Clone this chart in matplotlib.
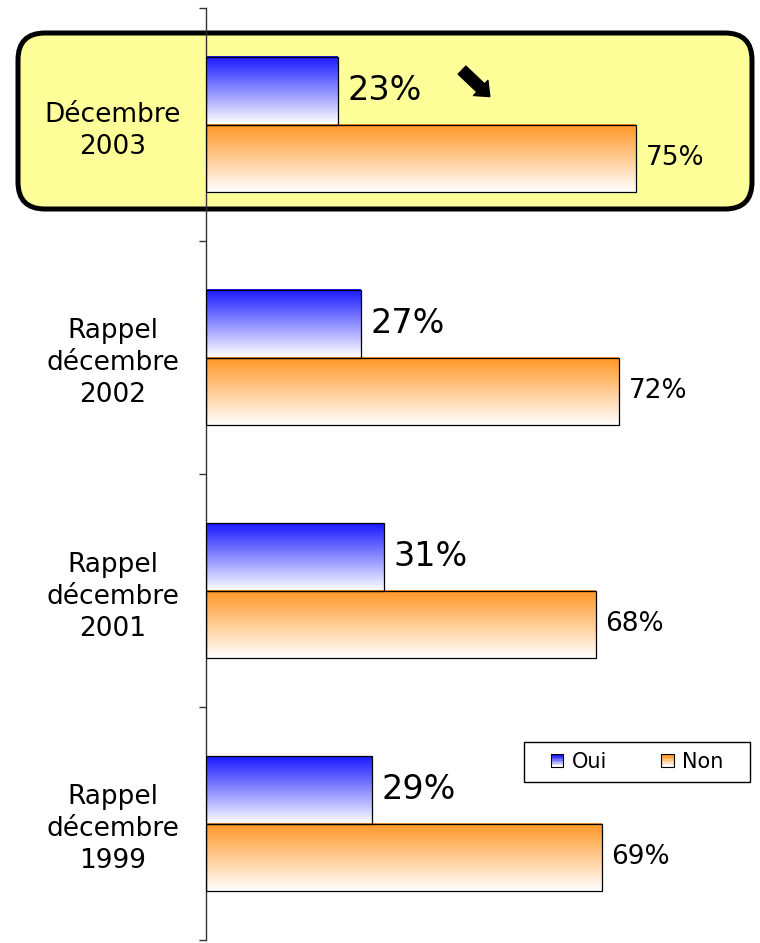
import numpy as np
import matplotlib
matplotlib.use("Agg")
import matplotlib.pyplot as plt
from matplotlib.patches import FancyBboxPatch, Rectangle, Patch
from matplotlib.legend_handler import HandlerBase

# data
categories = ["Décembre\n2003", "Rappel\ndécembre\n2002", "Rappel\ndécembre\n2001", "Rappel\ndécembre\n1999"]
oui = [23, 27, 31, 29]
non = [75, 72, 68, 69]
series_names = ["Oui", "Non"]

BLUE = np.array([0.07, 0.07, 1.0])
ORANGE = np.array([1.0, 0.58, 0.12])
WHITE = np.array([1.0, 1.0, 1.0])


def gradient(color, n=64):
    t = np.linspace(0, 1, n)[:, None]
    col = color[None, :] * (1 - t) + WHITE[None, :] * t
    col = col * 0.97 + 0.03 * WHITE
    return col[:, None, :]


class GradientHandler(HandlerBase):
    def __init__(self, color):
        super().__init__()
        self.color = color

    def create_artists(self, legend, orig_handle, xdescent, ydescent,
                       width, height, fontsize, trans):
        size = min(width, height)
        x0 = -xdescent + (width - size) / 2
        y0 = -ydescent + (height - size) / 2
        n = 8
        arts = []
        for i in range(n):
            t = i / (n - 1)
            c = self.color * (1 - t) + WHITE * t
            arts.append(Rectangle((x0, y0 + size * (n - 1 - i) / n), size, size / n,
                                  facecolor=c, edgecolor="none", transform=trans))
        arts.append(Rectangle((x0, y0), size, size, facecolor="none",
                              edgecolor="black", lw=0.8, transform=trans))
        return arts


fig = plt.figure(figsize=(7.6, 9.43), dpi=100)
ax = fig.add_axes([206 / 760, 1 - 940 / 943, 554 / 760, 932 / 943])
ax.patch.set_visible(False)

# highlighted first category
box = FancyBboxPatch((0.18, (943 - 209) / 100), 7.34, 1.76,
                     boxstyle="round,pad=0,rounding_size=0.27",
                     transform=fig.dpi_scale_trans, facecolor="#ffff99",
                     edgecolor="black", lw=3.6, zorder=-5)
fig.add_artist(box)

n = len(categories)
ypos = np.arange(n)[::-1]
h = 0.29
for y, vo, vn in zip(ypos, oui, non):
    for v, yc, col, fs in [(vo, y + h / 2, BLUE, 24), (vn, y - h / 2, ORANGE, 19)]:
        ax.imshow(gradient(col), extent=[0, v, yc - h / 2, yc + h / 2],
                  aspect="auto", origin="upper", zorder=2)
        ax.add_patch(Rectangle((0, yc - h / 2), v, h, facecolor="none",
                               edgecolor="black", lw=0.9, zorder=3))
        ax.annotate(f"{v}%", (v, yc), xytext=(7, 0), textcoords="offset points",
                    va="center", ha="left", fontsize=fs, color="black")

# thick down arrow next to the 2003 value
ax.annotate("", xy=(49.5, 3.12), xycoords="data",
            xytext=(-20, 19), textcoords="offset points",
            arrowprops=dict(arrowstyle="simple,head_length=0.9,head_width=1.5,tail_width=0.8",
                            color="black", shrinkA=0, shrinkB=0))

ax.set_xlim(0, 554 / (430 / 75))
ax.set_ylim(-0.5, n - 0.5)

for s in ["top", "right", "bottom"]:
    ax.spines[s].set_visible(False)
ax.spines["left"].set_linewidth(1.0)
ax.spines["left"].set_color("#333333")
ax.set_xticks([])
ax.set_yticks(np.arange(n + 1) - 0.5)
ax.set_yticklabels([])
ax.tick_params(axis="y", which="major", length=5, width=1, direction="out", color="#333333")
ax.set_yticks(ypos, minor=True)
ax.set_yticklabels(categories, minor=True, fontsize=19, ha="center", linespacing=1.3)
ax.tick_params(axis="y", which="minor", length=0, pad=67)

# legend frame and entries
ax.add_patch(Rectangle((0.574, 0.1695), 0.408, 0.043, transform=ax.transAxes,
                       facecolor="white", edgecolor="black", lw=1.0, zorder=4))
h_oui = Patch(label=series_names[0])
h_non = Patch(label=series_names[1])
leg = ax.legend(handles=[h_oui, h_non], loc="center",
                bbox_to_anchor=(0.778, 0.191), ncol=2, fontsize=15,
                handlelength=0.6, handleheight=0.6, handletextpad=0.4,
                columnspacing=2.6, frameon=False,
                handler_map={h_oui: GradientHandler(BLUE), h_non: GradientHandler(ORANGE)})
leg.set_zorder(5)

fig.savefig("out.png", dpi=100)
